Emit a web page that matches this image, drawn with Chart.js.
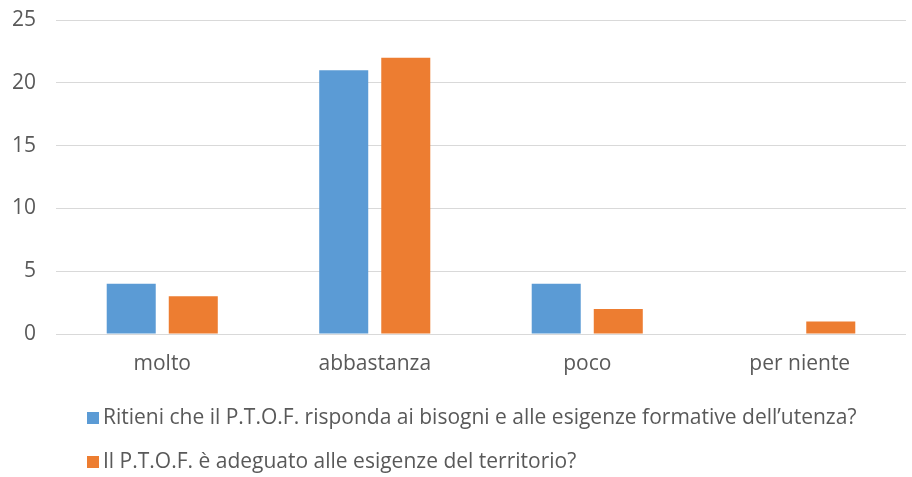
<!DOCTYPE html>
<html>
<head>
<meta charset="utf-8">
<script src="https://cdn.jsdelivr.net/npm/chart.js@4/dist/chart.umd.min.js"></script>
<style>
  html, body { margin: 0; padding: 0; background: #fff; }
  #wrap { width: 912px; height: 477px; }
</style>
</head>
<body>
<div id="wrap"><canvas id="chart" width="912" height="477"></canvas></div>
<script>
const categories = ['molto', 'abbastanza', 'poco', 'per niente'];
const seriesNames = [
  'Ritieni che il P.T.O.F. risponda ai bisogni e alle esigenze formative dell\u2019utenza?',
  'Il P.T.O.F. \u00e8 adeguato alle esigenze del territorio?'
];
const bisogniValues = [4, 21, 4, 0];
const territorioValues = [3, 22, 2, 1];
const yTicks = [0, 5, 10, 15, 20, 25];

const textColor = '#595959';
const fontFamily = '"Open Sans", "Liberation Sans", sans-serif';
const fontSize = 21;

// legend stacked on two rows, left aligned, as in the original
const rowLegend = {
  id: 'rowLegend',
  afterDraw(chart) {
    const ctx = chart.ctx;
    ctx.save();
    ctx.font = fontSize + 'px ' + fontFamily;
    ctx.textBaseline = 'middle';
    chart.data.datasets.forEach(function (ds, i) {
      const y = 418 + i * 44;
      ctx.fillStyle = ds.backgroundColor;
      ctx.fillRect(87, y - 6, 12, 12);
      ctx.fillStyle = textColor;
      ctx.fillText(ds.label, 103, y);
    });
    ctx.restore();
  }
};

new Chart(document.getElementById('chart'), {
  type: 'bar',
  data: {
    labels: categories,
    datasets: [
      { label: seriesNames[0], data: bisogniValues, backgroundColor: '#5B9BD5' },
      { label: seriesNames[1], data: territorioValues, backgroundColor: '#ED7D31' }
    ]
  },
  options: {
    responsive: false,
    animation: false,
    layout: { padding: { top: 20, right: 6, bottom: 93, left: 0 } },
    datasets: {
      bar: { categoryPercentage: 0.584, barPercentage: 0.79 }
    },
    plugins: {
      legend: { display: false },
      tooltip: { enabled: false }
    },
    scales: {
      x: {
        grid: { display: false, drawTicks: false },
        border: { display: false },
        ticks: { color: textColor, font: { family: fontFamily, size: fontSize }, padding: 17 },
        afterFit(scale) { scale.height = 50; }
      },
      y: {
        min: 0,
        max: 25,
        afterBuildTicks(scale) { scale.ticks = yTicks.map(v => ({ value: v })); },
        grid: { color: '#D9D9D9', lineWidth: 1, drawTicks: false },
        border: { display: false },
        ticks: { color: textColor, font: { family: fontFamily, size: fontSize }, padding: 20 },
        afterFit(scale) {
          scale.width = 56;
          scale.paddingTop = 0;
          scale.paddingBottom = 0;
        }
      }
    }
  },
  plugins: [rowLegend]
});
</script>
</body>
</html>
